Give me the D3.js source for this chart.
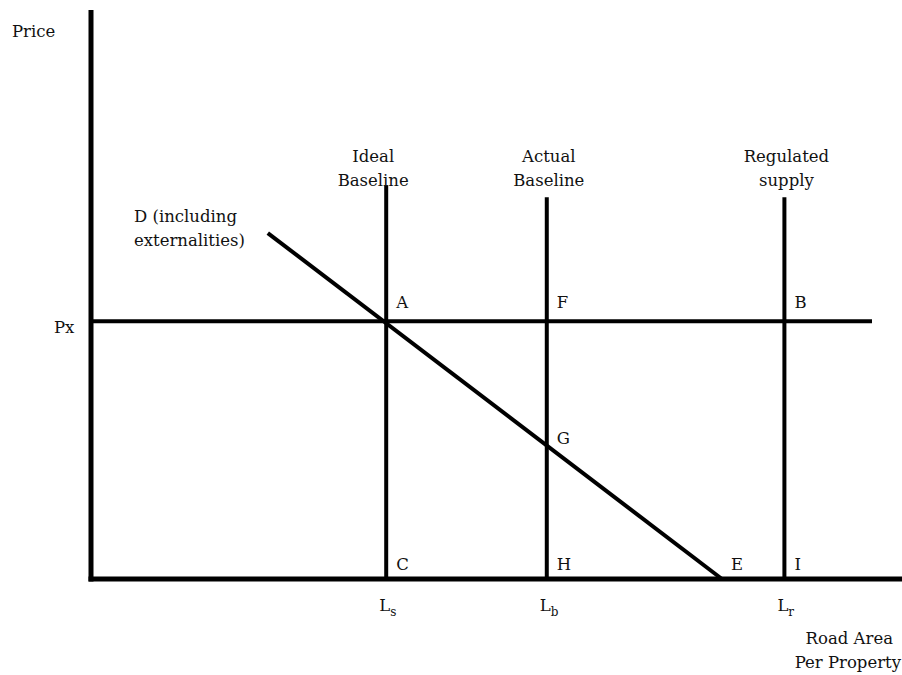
<!DOCTYPE html>
<html>
<head>
<meta charset="utf-8">
<script src="https://cdn.jsdelivr.net/npm/d3@7/dist/d3.min.js"></script>
<style>
  body { margin: 0; background: #fff; }
  svg text { font-family: 'DejaVu Serif', serif; font-size: 16.5px; fill: #111; }
  .line { stroke: #000; fill: none; }
</style>
</head>
<body>
<div id="chart"></div>
<script>
// quantities (road area per property), price in arbitrary units
var supplyNames  = ['Ideal Baseline', 'Actual Baseline', 'Regulated supply'];
var supplyLabels = [['Ideal', 'Baseline'], ['Actual', 'Baseline'], ['Regulated', 'supply']];
var supplyQty    = [36.4, 56.2, 85.5];
var supplyTop    = [69.2, 67.1, 67.1];
var supplyTicks  = [['L', 's'], ['L', 'b'], ['L', 'r']];

var priceX = 45.3;        // Px
var priceLineEnd = 96.3;  // how far Px line runs

var demandQty   = [21.8, 77.8];
var demandPrice = [60.8, 0];

// point labels
var pointNames = ['A', 'F', 'B', 'G', 'C', 'H', 'E', 'I'];
var pointQty   = [36.4, 56.2, 85.5, 56.2, 36.4, 56.2, 77.8, 85.5];
var pointPrice = [45.3, 45.3, 45.3, 23.4, 0, 0, 0, 0];

var width = 902, height = 675;
var margin = {left: 91, top: 10, right: 0, bottom: 96};

var x = d3.scaleLinear().domain([0, 100]).range([margin.left, width - margin.right]);
var y = d3.scaleLinear().domain([0, 100]).range([height - margin.bottom, margin.top]);

var svg = d3.select('#chart').append('svg')
  .attr('width', width)
  .attr('height', height);

// Axes
svg.append('line').attr('class', 'line')
  .attr('x1', x(0)).attr('x2', x(0))
  .attr('y1', y(100)).attr('y2', y(0) + 2.5)
  .attr('stroke-width', 5);

svg.append('line').attr('class', 'line')
  .attr('x1', x(0) - 2.5).attr('x2', x(100))
  .attr('y1', y(0)).attr('y2', y(0))
  .attr('stroke-width', 5);

// Px line
svg.append('line').attr('class', 'line')
  .attr('x1', x(0)).attr('x2', x(priceLineEnd))
  .attr('y1', y(priceX)).attr('y2', y(priceX))
  .attr('stroke-width', 4);

// Supply verticals
var supply = supplyNames.map(function(d, i) {
  return {name: d, q: supplyQty[i], top: supplyTop[i], label: supplyLabels[i], tick: supplyTicks[i]};
});

svg.selectAll('.supply')
  .data(supply)
.enter().append('line')
  .attr('class', 'line supply')
  .attr('x1', function(d){ return x(d.q); })
  .attr('x2', function(d){ return x(d.q); })
  .attr('y1', function(d){ return y(d.top); })
  .attr('y2', y(0))
  .attr('stroke-width', 4);

svg.selectAll('.supply-label')
  .data(supply)
.enter().append('text')
  .attr('class', 'supply-label')
  .attr('text-anchor', 'middle')
  .attr('y', 162)
  .each(function(d, i) {
    var t = d3.select(this);
    // the ideal baseline label sits a little left of its line
    var cx = x(d.q) + (i === 0 ? -13 : 2);
    d.label.forEach(function(s, j) {
      t.append('tspan')
        .attr('x', cx)
        .attr('dy', j === 0 ? 0 : 23.5)
        .text(s);
    });
  });

// Tick labels with subscripts
svg.selectAll('.tick-label')
  .data(supply)
.enter().append('text')
  .attr('class', 'tick-label')
  .attr('x', function(d){ return x(d.q) - 7; })
  .attr('y', 611)
  .each(function(d) {
    var t = d3.select(this);
    t.append('tspan').text(d.tick[0]);
    t.append('tspan').attr('dy', 5).style('font-size', '12px').text(d.tick[1]);
  });

// Demand line
var demand = demandQty.map(function(d, i){ return {q: d, p: demandPrice[i]}; });
svg.append('path').datum(demand)
  .attr('class', 'line')
  .attr('stroke-width', 4)
  .attr('d', d3.line().x(function(d){ return x(d.q); }).y(function(d){ return y(d.p); }));

svg.append('text').attr('x', 134).attr('y', 222).text('D (including');
svg.append('text').attr('x', 134).attr('y', 246).text('externalities)');

// Point labels
var points = pointNames.map(function(d, i){ return {name: d, q: pointQty[i], p: pointPrice[i]}; });
svg.selectAll('.point-label')
  .data(points)
.enter().append('text')
  .attr('class', 'point-label')
  .attr('x', function(d){ return x(d.q) + (d.name === 'E' ? 9 : 10); })
  .attr('y', function(d){
    if (d.p === 0) return y(0) - 9;
    if (d.name === 'G') return y(d.p) - 2;
    return y(d.p) - 13;
  })
  .text(function(d){ return d.name; });

// Axis titles
svg.append('text').attr('x', 12).attr('y', 37).text('Price');
svg.append('text').attr('x', 54).attr('y', 333).text('Px');
svg.append('text').attr('x', 893).attr('y', 644).attr('text-anchor', 'end').text('Road Area');
svg.append('text').attr('x', 901).attr('y', 668).attr('text-anchor', 'end').text('Per Property');
</script>
</body>
</html>
